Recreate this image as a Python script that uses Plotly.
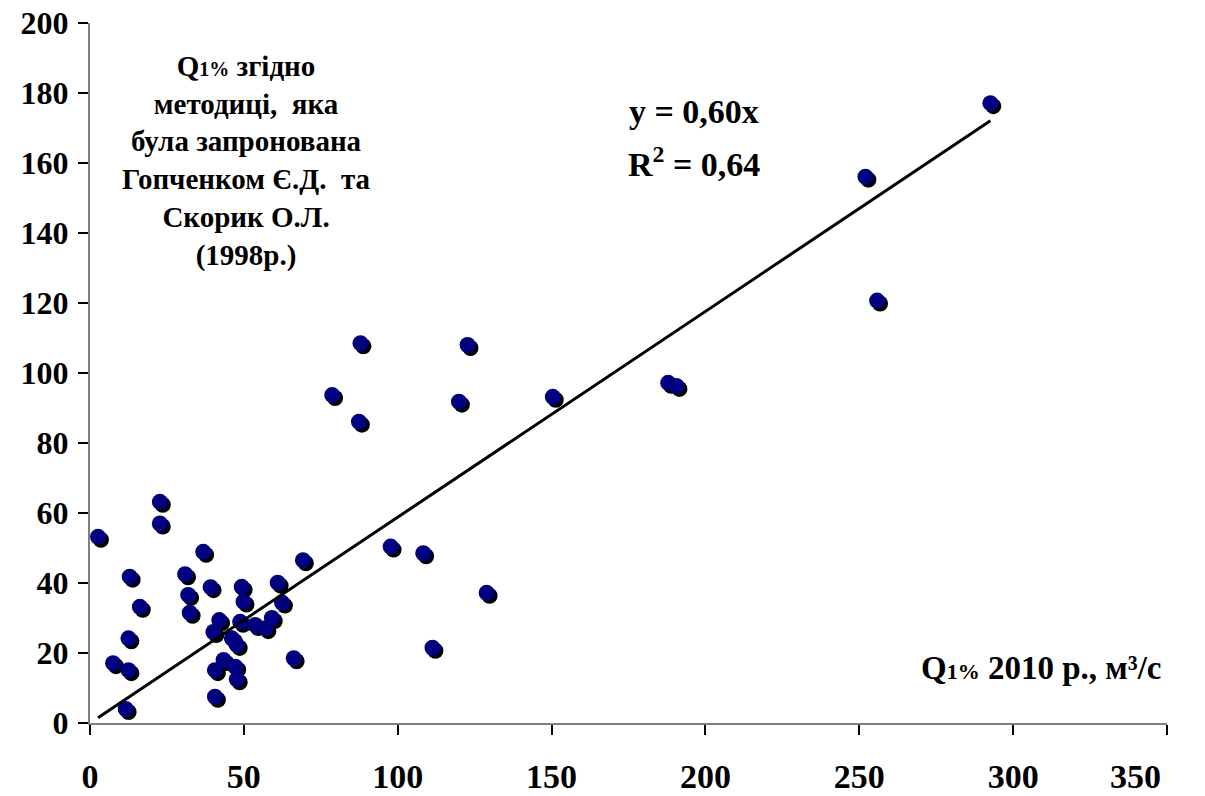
import plotly.graph_objects as go

# Q1% 2010 (x) vs Q1% by Gopchenko & Skoryk method (y)
q2010 = [2.6, 22.7, 22.7, 36.8, 12.9, 30.9, 39.2, 49.3, 61.0, 69.2,
         31.9, 49.9, 62.4, 16.2, 32.4, 42.0, 48.8, 59.1, 53.7, 57.0,
         40.1, 46.1, 47.7, 12.5, 43.4, 66.2, 7.5, 12.5, 40.6, 47.2,
         47.7, 40.6, 11.6, 87.9, 122.7, 78.7, 87.4, 119.9, 150.4, 97.7,
         108.3, 128.9, 111.3, 187.9, 190.6, 252.0, 255.8, 292.6]
q1998 = [53.2, 63.2, 57.0, 48.9, 41.8, 42.5, 38.8, 38.9, 40.1, 46.5,
         36.6, 34.7, 34.4, 33.2, 31.5, 29.4, 28.9, 30.0, 28.0, 27.1,
         26.0, 24.2, 22.3, 24.2, 18.0, 18.5, 17.1, 15.1, 15.1, 16.1,
         12.5, 7.5, 4.0, 108.5, 108.0, 93.7, 86.1, 91.8, 93.2, 50.4,
         48.5, 37.2, 21.5, 97.2, 96.3, 156.1, 120.7, 177.1]

slope = 0.588
x_ticks = [0, 50, 100, 150, 200, 250, 300, 350]
x_labels = ["0", "50", "100", "150", "200", "250", "300", "350"]
y_ticks = [0, 20, 40, 60, 80, 100, 120, 140, 160, 180, 200]

FONT = "Liberation Serif"
XTICK_FONT = dict(family=FONT, size=34, color="black", weight="bold")

fig = go.Figure()

# shadow of markers
fig.add_trace(go.Scatter(
    x=[v + 0.95 for v in q2010], y=[v - 0.85 for v in q1998],
    mode="markers", marker=dict(size=16, color="black", line=dict(width=0)),
    hoverinfo="skip", showlegend=False))
# markers
fig.add_trace(go.Scatter(
    x=q2010, y=q1998, mode="markers",
    marker=dict(size=16, color="#000080", line=dict(width=0)),
    showlegend=False))
# trend line through origin
xmin, xmax = min(q2010), max(q2010)
fig.add_trace(go.Scatter(
    x=[xmin, xmax], y=[slope * xmin, slope * xmax], mode="lines",
    line=dict(color="black", width=3), showlegend=False, hoverinfo="skip"))

axis_common = dict(
    showgrid=False, zeroline=False, showline=True, linecolor="#808080",
    linewidth=2, ticks="outside", ticklen=10, tickwidth=1.5, tickcolor="black",
    automargin=False,
)

# last x label is drawn separately (shifted left to stay inside the chart)
fig.update_xaxes(range=[0, 350], tickvals=x_ticks,
                 ticktext=x_labels[:-1] + [" "],
                 ticklabelstandoff=12, tickfont=XTICK_FONT, **axis_common)
fig.update_yaxes(range=[0, 200], tickvals=y_ticks, ticklabelstandoff=3,
                 tickfont=dict(family=FONT, size=32, color="black", weight="bold"),
                 **axis_common)

fig.add_annotation(x=x_ticks[-1], y=0, xref="x", yref="paper",
                   xanchor="right", yanchor="middle", xshift=-4, yshift=-53,
                   showarrow=False, text=x_labels[-1], font=XTICK_FONT)

txt_font = dict(family=FONT, size=29, color="black", weight="bold")

fig.add_annotation(
    x=50.8, y=160.7, xref="x", yref="y", showarrow=False, align="center",
    text=("Q<span style='font-size:20px'>1%</span> згідно<br>"
          "методиці,\u00a0 яка<br>була запронована<br>"
          "Гопченком Є.Д.\u00a0 та<br>Скорик О.Л.<br>(1998р.)"),
    font=txt_font)

eq_font = dict(family=FONT, size=34, color="black", weight="bold")
fig.add_annotation(x=196.4, y=174.6, xref="x", yref="y", showarrow=False,
                   text="y = 0,60x", font=eq_font)
fig.add_annotation(x=196.4, y=160.3, xref="x", yref="y", showarrow=False,
                   text="R<sup>2</sup> = 0,64", font=eq_font)

fig.add_annotation(
    x=308.9, y=15.7, xref="x", yref="y", showarrow=False,
    text="Q<span style='font-size:22px'>1%</span> 2010 р., м³/с",
    font=dict(family=FONT, size=33, color="black", weight="bold"))

fig.update_layout(
    width=1205, height=796,
    margin=dict(l=90, r=38, t=23, b=73),
    paper_bgcolor="white", plot_bgcolor="white",
    showlegend=False,
)

fig.write_html("out.html")
